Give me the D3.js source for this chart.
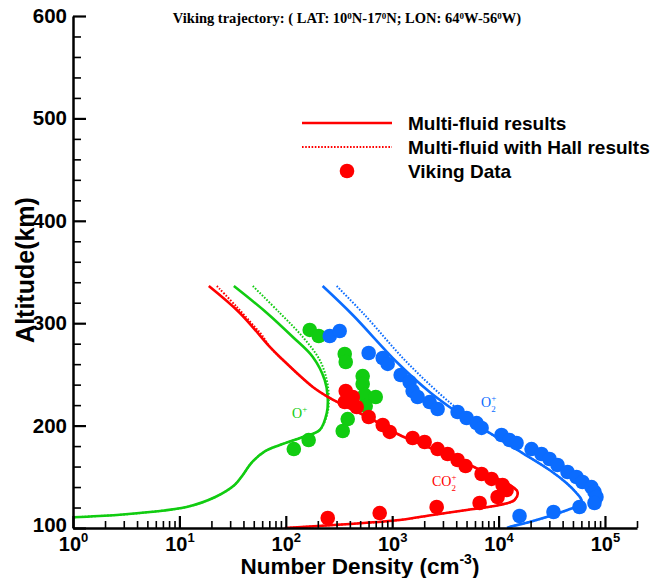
<!DOCTYPE html>
<html>
<head>
<meta charset="utf-8">
<script src="https://cdn.jsdelivr.net/npm/d3@7"></script>
<style>
  body { margin: 0; background: #fff; }
  svg { display: block; }
</style>
</head>
<body>
<svg id="chart" width="653" height="578"></svg>
<script>
// Ion density profiles along the Viking trajectory: [number density (cm^-3), altitude (km)]

// Multi-fluid model results
const co2Model = [
  [18.9, 336.3], [37.0, 310.0], [70.8, 276.8], [87.9, 267.0], [179.5, 237.7],
  [258.8, 227.0], [374, 218.2], [615, 207.4], [1175, 190.8], [4305, 166.4],
  [8222, 151.8], [12680, 142.0], [15070, 135.2], [14130, 127.3], [10210, 122.5],
  [5012, 117.6], [2399, 112.7], [1175, 107.8], [398, 103.9], [98, 100.0]
];
const oModel = [
  [32.5, 336.3], [66.4, 310.0], [116.4, 286.5], [179.5, 267.0], [232.3, 244.5],
  [247.7, 228.0], [242.7, 212.3], [208.4, 195.7], [144.5, 188.9], [87.9, 181.0],
  [64.0, 175.0], [48.0, 164.0], [39.0, 151.0], [33.0, 142.0], [21.5, 130.0],
  [11.7, 120.5], [5.28, 115.6], [2.59, 112.7], [1.0, 110.5]
];
const o2Model = [
  [222, 336.3], [426, 308.0], [1102, 262.1], [2249, 232.8], [4036, 213.3],
  [8222, 192.8], [16790, 173.2], [30130, 156.6], [43450, 143.9], [53950, 134.2],
  [60120, 127.3], [57680, 122.5], [44460, 117.6], [28250, 110.7], [19540, 105.9],
  [12680, 101.0], [12020, 100.0]
];

// Multi-fluid model with Hall term
const co2Hall = [
  [22.5, 336.3], [34.7, 315.8], [51.2, 296.3], [59.6, 288.5], [70.8, 276.8],
  [87.9, 267.0], [179.5, 237.7], [258.8, 227.0], [374, 218.2], [615, 207.4],
  [1175, 190.8], [4305, 166.4], [8222, 151.8], [12680, 142.0], [15070, 135.2],
  [14130, 127.3], [10210, 122.5], [5012, 117.6], [2399, 112.7], [1175, 107.8],
  [398, 103.9], [98, 100.0]
];
const oHall = [
  [49.0, 336.3], [87.9, 310.0], [144.5, 286.5], [208.4, 264.1], [242.7, 244.5],
  [253.6, 228.0], [247.7, 213.3], [208.4, 195.7], [144.5, 188.9], [87.9, 181.0],
  [64.0, 175.0], [48.0, 164.0], [39.0, 151.0], [33.0, 142.0], [21.5, 130.0],
  [11.7, 120.5], [5.28, 115.6], [2.59, 112.7], [1.0, 110.5]
];
const o2Hall = [
  [301, 336.3], [552, 308.0], [1368, 262.1], [3698, 220.1], [8222, 192.8],
  [16790, 173.2], [30130, 156.6], [43450, 143.9], [53950, 134.2], [60120, 127.3],
  [57680, 122.5], [44460, 117.6], [28250, 110.7], [19540, 105.9], [12680, 101.0],
  [12020, 100.0]
];

// Viking measurements
const co2Data = [
  [366, 233.8], [426, 227.9], [358, 223.0], [464, 218.2], [601, 208.4],
  [815, 200.6], [948, 193.8], [1557, 187.9], [2018, 184.0], [2673, 177.1],
  [3319, 172.3], [4121, 166.4], [4898, 160.5], [6925, 152.7], [8594, 147.9],
  [10900, 142.0], [11890, 137.1], [9790, 130.3], [6633, 124.4], [2618, 120.5],
  [763, 114.6], [248, 109.8]
];
const oData = [
  [168, 293.4], [204, 287.5], [358, 269.9], [366, 262.1], [528, 248.4],
  [528, 240.6], [552, 229.9], [700, 227.9], [564, 219.1], [382, 206.4],
  [343, 194.7], [164, 185.9], [119, 177.1]
];
const o2Data = [
  [259, 287.5], [321, 292.4], [601, 270.9], [815, 266.0], [907, 260.2],
  [1202, 249.4], [1460, 242.6], [1557, 233.8], [1734, 227.9], [2249, 223.0],
  [2673, 216.2], [4121, 213.3], [5008, 207.4], [6213, 202.5], [6925, 197.7],
  [10660, 190.8], [12680, 185.9], [14750, 183.0], [20400, 177.1], [25330, 172.3],
  [30120, 167.4], [35800, 161.5], [44460, 154.7], [54000, 149.8], [61480, 144.9],
  [74650, 140.0], [79650, 135.2], [83200, 130.3], [79650, 124.4], [57650, 120.5],
  [32830, 115.6], [15740, 111.7]
];

// Axis ticks
const yMajorTicks = [100, 200, 300, 400, 500, 600];
const yMinorTicks = d3.range(100, 601, 20).filter(v => v % 100 !== 0);
const xMajorTicks = [1, 10, 100, 1000, 10000, 100000];
const xExponents = ["0", "1", "2", "3", "4", "5"];
const xMinorTicks = [];
for (let p = 1; p <= 1e5; p *= 10) for (let k = 2; k <= 9; k++) if (k * p <= 2e5) xMinorTicks.push(k * p);

const colors = { co2: "#ff0000", o: "#11cc11", o2: "#0b6cff" };
const sansFont = "'Liberation Sans', Arial, Helvetica, sans-serif";
const serifFont = "'Liberation Serif', 'Times New Roman', serif";

const svg = d3.select("#chart");
const x = d3.scaleLog().domain([1, 2e5]).range([73, 637]);
const y = d3.scaleLinear().domain([100, 600]).range([528, 16]);

// Title
const title = svg.append("text")
  .attr("x", 347).attr("y", 23)
  .attr("text-anchor", "middle")
  .attr("font-family", serifFont).attr("font-weight", "bold").attr("font-size", 14.5);
const titleParts = [
  ["Viking trajectory: ( LAT: 10", false], ["0", true], ["N-17", false], ["0", true],
  ["N; LON: 64", false], ["0", true], ["W-56", false], ["0", true], ["W)", false]
];
titleParts.forEach(([t, sup]) => {
  title.append("tspan").text(t)
    .attr("font-size", sup ? 9 : 14.5)
    .attr("baseline-shift", sup ? "45%" : null);
});

// Model curves
const line = d3.line().x(d => x(d[0])).y(d => y(d[1])).curve(d3.curveCatmullRom.alpha(0.5));
const curves = [
  [oModel, colors.o, null], [oHall, colors.o, "1.6 1.6"],
  [co2Model, colors.co2, null], [co2Hall, colors.co2, "1.6 1.6"],
  [o2Model, colors.o2, null], [o2Hall, colors.o2, "1.6 1.6"]
];
curves.forEach(([data, col, dash]) => {
  svg.append("path").datum(data)
    .attr("d", line)
    .attr("fill", "none")
    .attr("stroke", col)
    .attr("stroke-width", dash ? 2 : 2.6)
    .attr("stroke-dasharray", dash);
});

// Measurement points
[[oData, colors.o], [o2Data, colors.o2], [co2Data, colors.co2]].forEach(([data, col]) => {
  svg.append("g").selectAll("circle").data(data).join("circle")
    .attr("cx", d => x(d[0])).attr("cy", d => y(d[1]))
    .attr("r", 7.3).attr("fill", col);
});

// Species labels
function speciesLabel(px, py, col, base, sub) {
  const t = svg.append("text").attr("x", px).attr("y", py)
    .attr("font-family", serifFont).attr("font-size", 14).attr("fill", col);
  t.append("tspan").text(base);
  t.append("tspan").text("+").attr("font-size", 9).attr("dy", -6);
  if (sub) t.append("tspan").text(sub).attr("font-size", 9).attr("dx", -5).attr("dy", 11);
}
speciesLabel(292, 418, colors.o, "O", null);
speciesLabel(481, 407, colors.o2, "O", "2");
speciesLabel(432, 486, colors.co2, "CO", "2");

// Y axis
const yAxis = svg.append("g").attr("transform", "translate(73,0)")
  .call(d3.axisLeft(y).tickValues(yMajorTicks).tickSizeInner(-13).tickSizeOuter(0)
    .tickPadding(6).tickFormat(d3.format("d")));
svg.append("g").attr("transform", "translate(73,0)")
  .call(d3.axisLeft(y).tickValues(yMinorTicks).tickSizeInner(-8).tickSizeOuter(0).tickFormat(""))
  .call(g => g.select(".domain").remove());

// X axis
const xAxis = svg.append("g").attr("transform", "translate(0,528)")
  .call(d3.axisBottom(x).tickValues(xMajorTicks).tickSizeInner(-12).tickSizeOuter(0).tickFormat(""));
svg.append("g").attr("transform", "translate(0,528)")
  .call(d3.axisBottom(x).tickValues(xMinorTicks).tickSizeInner(-7).tickSizeOuter(0).tickFormat(""))
  .call(g => g.select(".domain").remove());

xAxis.selectAll(".tick").each(function (d, i) {
  const t = d3.select(this).append("text")
    .attr("x", 0).attr("y", 22.5).attr("text-anchor", "middle")
    .attr("fill", "#000").attr("font-family", sansFont).attr("font-weight", "bold");
  t.append("tspan").text("10").attr("font-size", 20);
  t.append("tspan").text(xExponents[i]).attr("font-size", 13).attr("dy", -9);
});

svg.selectAll(".domain").attr("stroke", "#000").attr("stroke-width", 2.5);
svg.selectAll(".tick line").attr("stroke", "#000").attr("stroke-width", 1.6);
yAxis.selectAll(".tick line").attr("stroke-width", 2.2);
xAxis.selectAll(".tick line").attr("stroke-width", 2.2);
yAxis.selectAll(".tick text")
  .attr("font-family", sansFont).attr("font-weight", "bold").attr("font-size", 20.5).attr("fill", "#000");
// keep the lowest altitude label clear of the "10^0" label below it
yAxis.selectAll(".tick text").filter(d => d === 100).attr("y", -3);

// Axis titles
svg.append("text")
  .attr("transform", "translate(34,270) rotate(-90)")
  .attr("text-anchor", "middle")
  .attr("font-family", sansFont).attr("font-weight", "bold").attr("font-size", 25)
  .text("Altitude(km)");

const xTitle = svg.append("text")
  .attr("x", 360).attr("y", 573.5).attr("text-anchor", "middle")
  .attr("font-family", sansFont).attr("font-weight", "bold").attr("font-size", 22.5);
xTitle.append("tspan").text("Number Density (cm");
xTitle.append("tspan").text("-3").attr("font-size", 14).attr("dy", -10);
xTitle.append("tspan").text(")").attr("dy", 10);

// Legend
const legend = svg.append("g").attr("font-family", sansFont).attr("font-weight", "bold").attr("font-size", 19);
legend.append("line").attr("x1", 302).attr("x2", 392).attr("y1", 123).attr("y2", 123)
  .attr("stroke", colors.co2).attr("stroke-width", 2.6);
legend.append("line").attr("x1", 302).attr("x2", 392).attr("y1", 147).attr("y2", 147)
  .attr("stroke", colors.co2).attr("stroke-width", 2).attr("stroke-dasharray", "1.6 1.6");
legend.append("circle").attr("cx", 347).attr("cy", 171).attr("r", 7.3).attr("fill", colors.co2);
legend.append("text").attr("x", 408).attr("y", 130).text("Multi-fluid results");
legend.append("text").attr("x", 408).attr("y", 154).text("Multi-fluid with Hall results");
legend.append("text").attr("x", 408).attr("y", 178).text("Viking Data");
</script>
</body>
</html>
